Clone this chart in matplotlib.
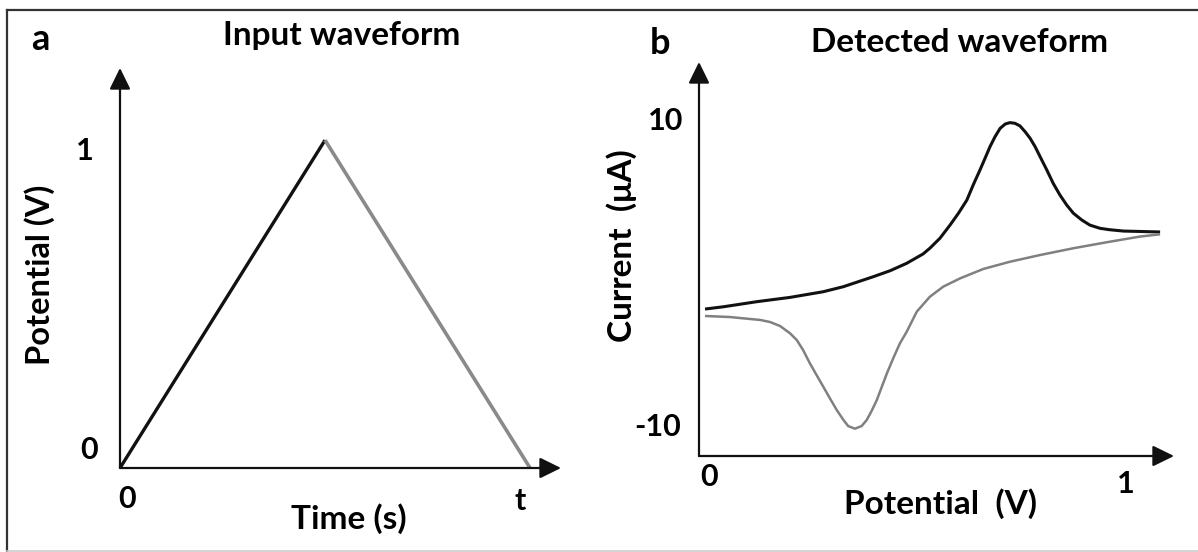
import numpy as np
import matplotlib
matplotlib.use("Agg")
import matplotlib.pyplot as plt
from matplotlib.lines import Line2D

plt.rcParams['font.family'] = ['Lato', 'DejaVu Sans']
plt.rcParams['font.weight'] = 'bold'

# --- DATA ---
# panel a: triangular input sweep
time_pts = [0, 1, 2]
potential_pts = [0, 1, 0]

# panel b: cyclic voltammogram, forward scan (black)
fwd_v = [0.000, 0.044, 0.123, 0.202, 0.281, 0.329, 0.400, 0.440, 0.479, 0.518,
         0.534, 0.558, 0.582, 0.602, 0.622, 0.637, 0.653, 0.665, 0.677, 0.689,
         0.701, 0.713, 0.724, 0.736, 0.748, 0.760, 0.772, 0.784, 0.796, 0.812,
         0.827, 0.843, 0.859, 0.875, 0.895, 0.914, 0.938, 0.960, 0.994, 1.081]
fwd_i = [-2.25, -2.10, -1.77, -1.49, -1.12, -0.79, -0.14, 0.25, 0.73, 1.34,
         1.71, 2.36, 3.22, 3.99, 4.85, 5.83, 6.80, 7.56, 8.33, 8.98,
         9.52, 9.80, 9.89, 9.85, 9.68, 9.31, 8.88, 8.33, 7.67, 6.80,
         5.94, 5.18, 4.53, 3.99, 3.55, 3.22, 3.01, 2.92, 2.83, 2.77]

# reverse scan (grey)
rev_v = [1.081, 1.033, 0.954, 0.875, 0.796, 0.724, 0.661, 0.606, 0.566, 0.534,
         0.503, 0.479, 0.463, 0.447, 0.432, 0.420, 0.408, 0.396,
         0.384, 0.372, 0.356, 0.340, 0.329, 0.313, 0.297, 0.281, 0.265, 0.249,
         0.233, 0.218, 0.202, 0.178, 0.154, 0.131, 0.059, 0.000]
rev_i = [2.62, 2.47, 2.10, 1.71, 1.27, 0.83, 0.36, -0.25, -0.79, -1.45,
         -2.42, -3.73, -4.48, -5.46, -6.44, -7.31, -8.18, -8.87,
         -9.48, -9.87, -10.04, -9.87, -9.48, -8.83, -8.08, -7.31, -6.55, -5.78,
         -4.92, -4.27, -3.83, -3.35, -3.09, -2.96, -2.77, -2.70]

W, H = 1198, 552
fig = plt.figure(figsize=(W / 100, H / 100), dpi=100)


def fx(px):
    return px / W


def fy(py):
    return 1 - py / H


def axis_arrows(ax, x0, y0, x1, y1):
    style = dict(arrowstyle='-|>,head_length=0.65,head_width=0.32', mutation_scale=20,
                 lw=1.6, color='#111111', shrinkA=0, shrinkB=0)
    ax.annotate('', xy=(x1, y0), xytext=(x0, y0), arrowprops=style, annotation_clip=False)
    ax.annotate('', xy=(x0, y1), xytext=(x0, y0), arrowprops=style, annotation_clip=False)


def tick_label(ax, txt, x, y, dx, dy, size=22):
    ax.annotate(txt, xy=(x, y), xytext=(dx, dy), textcoords='offset points',
                ha='center', va='center', fontsize=size, annotation_clip=False)


# --- panel a ---
ax1 = fig.add_axes([fx(120), fy(468), fx(441), 400 / H])
ax1.set_xlim(0, 2.151)
ax1.set_ylim(0, 1.22)
ax1.axis('off')
ax1.plot(time_pts[:2], potential_pts[:2], color='#111111', lw=2.4, clip_on=False,
         solid_capstyle='butt')
ax1.plot(time_pts[1:], potential_pts[1:], color='#8a8a8a', lw=2.6, clip_on=False,
         solid_capstyle='butt')
axis_arrows(ax1, 0, 0, 2.151, 1.22)
tick_label(ax1, '1', 0, potential_pts[1], -25, -8)
tick_label(ax1, '0', 0, 0, -22, 13)
tick_label(ax1, '0', time_pts[0], 0, 5, -22)
tick_label(ax1, 't', time_pts[2], 0, -7, -24)

fig.text(fx(349), fy(519), 'Time (s)', ha='center', va='center', fontsize=24)
fig.text(fx(40), fy(275), 'Potential (V)', ha='center', va='center', fontsize=23.5,
         rotation=90)
fig.text(fx(342), fy(36), 'Input waveform', ha='center', va='center', fontsize=24)
fig.text(fx(40), fy(40), 'a', ha='center', va='center', fontsize=26)

# --- panel b ---
ax2 = fig.add_axes([fx(699), fy(456), fx(475), 394 / H])
ax2.set_xlim(-0.0143, 1.114)
ax2.set_ylim(-11.82, 13.84)
ax2.axis('off')
ax2.plot(fwd_v, fwd_i, color='#111111', lw=2.2, solid_joinstyle='round',
         solid_capstyle='butt')
ax2.plot(rev_v, rev_i, color='#808080', lw=1.8, solid_joinstyle='round',
         solid_capstyle='butt')
axis_arrows(ax2, -0.0143, -11.82, 1.114, 13.84)
tick_label(ax2, '10', -0.0143, 10, -24, 0)
tick_label(ax2, '-10', -0.0143, -10, -30, 1)
tick_label(ax2, '0', 0, -11.82, 3, -15)
tick_label(ax2, '1', 1, -11.82, 0, -20)

fig.text(fx(941), fy(504), 'Potential  (V)', ha='center', va='center', fontsize=24)
fig.text(fx(622), fy(246), 'Current  (\u03bcA)', ha='center', va='center', fontsize=24,
         rotation=90)
fig.text(fx(960), fy(42), 'Detected waveform', ha='center', va='center', fontsize=24)
fig.text(fx(660), fy(43), 'b', ha='center', va='center', fontsize=26)

# --- frame around the figure ---
fig.add_artist(Line2D([fx(7), 1], [fy(10), fy(10)], color='#333333', lw=1.6))
fig.add_artist(Line2D([fx(7), fx(7)], [fy(10), 0], color='#333333', lw=1.6))
fig.add_artist(Line2D([fx(7), 1], [fy(550.5), fy(550.5)], color='#cccccc', lw=1.2))

fig.savefig('out.png', dpi=100)
